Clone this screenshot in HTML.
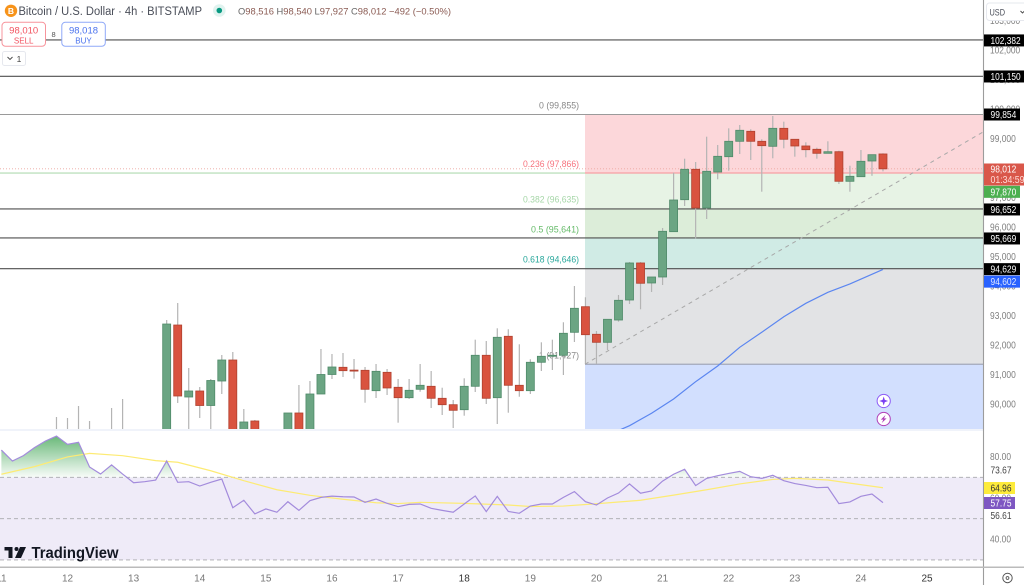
<!DOCTYPE html>
<html lang="en">
<head>
<meta charset="utf-8">
<title>Bitcoin / U.S. Dollar 4h chart</title>
<style>
html,body{margin:0;padding:0;background:#fff;width:1024px;height:585px;overflow:hidden}
svg{display:block;font-family:"Liberation Sans",sans-serif}
</style>
</head>
<body>
<svg id="chart" xmlns="http://www.w3.org/2000/svg" width="1024" height="585" viewBox="0 0 1024 585">
  <defs>
    <clipPath id="price-clip"><rect x="0" y="0" width="983" height="429"></rect></clipPath>
    <clipPath id="overbought-clip"><rect x="0" y="430" width="983" height="47.6"></rect></clipPath>
    <linearGradient id="overbought-gradient" gradientUnits="userSpaceOnUse" x1="0" y1="436" x2="0" y2="477.5">
      <stop offset="0" stop-color="#62b572" stop-opacity="0.95"></stop>
      <stop offset="1" stop-color="#62b572" stop-opacity="0.04"></stop>
    </linearGradient>
  </defs>
  <rect x="0" y="0" width="1024" height="585" fill="#ffffff"></rect>
  <g id="fib-layer"></g>
  <g id="line-layer"></g>
  <g id="candle-layer" clip-path="url(#price-clip)"></g>
  <g id="overlay-layer" clip-path="url(#price-clip)"></g>
  <rect x="0" y="429" width="983" height="2" fill="#f0f3fa"></rect>
  <g id="rsi-layer"></g>
  <g>
    <rect x="4.5" y="547" width="8" height="3.5" fill="#131722"></rect>
    <rect x="8.5" y="547" width="4" height="11" fill="#131722"></rect>
    <circle cx="16.5" cy="549" r="2" fill="#131722"></circle>
    <polygon points="20,547 26,547 21,558 15,558" fill="#131722"></polygon>
    <text x="31.5" y="558" font-size="16" font-weight="700" fill="#131722" textLength="87" lengthAdjust="spacingAndGlyphs">TradingView</text>
  </g>
  <g>
    <circle cx="883.7" cy="401" r="6.6" fill="#ffffff" stroke="#8d5cf6" stroke-width="1"></circle>
    <polygon points="883.7,396.5 884.8,399.9 888.2,401 884.8,402.1 883.7,405.5 882.6,402.1 879.2,401 882.6,399.9" fill="#7a3ff2"></polygon>
    <circle cx="883.7" cy="419" r="6.6" fill="#ffffff" stroke="#b040b8" stroke-width="1"></circle>
    <polygon points="885.5,415 880.8,419.6 883.3,419.6 881.8,423 886.6,418.4 884,418.4" fill="#b040b8"></polygon>
  </g>
  <g id="axis-layer"></g>
  <g>
    <circle cx="11" cy="10.8" r="6.2" fill="#f7931a"></circle>
    <text x="11" y="13.8" font-size="8.5" font-weight="700" fill="#fff" text-anchor="middle">B</text>
    <text x="18.5" y="15" font-size="11.5" fill="#4a4e59" textLength="183.5" lengthAdjust="spacingAndGlyphs">Bitcoin / U.S. Dollar · 4h · BITSTAMP</text>
    <circle cx="219.3" cy="10.5" r="6.3" fill="#e0f3ef"></circle>
    <circle cx="219.3" cy="10.5" r="2.8" fill="#089981"></circle>
    <text x="238" y="14.5" font-size="9.5" fill="#8a5a52" textLength="213" lengthAdjust="spacingAndGlyphs"><tspan fill="#666">O</tspan>98,516  <tspan fill="#666">H</tspan>98,540  <tspan fill="#666">L</tspan>97,927  <tspan fill="#666">C</tspan>98,012  −492 (−0.50%)</text>
    <rect x="2" y="22.3" width="43.5" height="24" rx="3.5" fill="#fff" stroke="#f7949c" stroke-width="1"></rect>
    <text x="23.7" y="33.5" font-size="9.5" fill="#f2525f" text-anchor="middle">98,010</text>
    <text x="23.7" y="43.5" font-size="8" fill="#f2525f" text-anchor="middle">SELL</text>
    <text x="53.6" y="37" font-size="7.5" fill="#555" text-anchor="middle">8</text>
    <rect x="61.8" y="22.3" width="43.5" height="24" rx="3.5" fill="#fff" stroke="#8fa9f8" stroke-width="1"></rect>
    <text x="83.5" y="33.5" font-size="9.5" fill="#4a72ee" text-anchor="middle">98,018</text>
    <text x="83.5" y="43.5" font-size="8" fill="#4a72ee" text-anchor="middle">BUY</text>
    <rect x="2.5" y="51.5" width="23" height="14" rx="2" fill="#fff" stroke="#e6e8ee" stroke-width="1"></rect>
    <path d="M7.5 57 L10 59.5 L12.5 57" fill="none" stroke="#444" stroke-width="0.9"></path>
    <text x="19" y="62" font-size="8.5" fill="#444" text-anchor="middle">1</text>
  </g>
</svg>
<script>
// Candle data: open, high, low, close in USD (4h bars, first bar is 4h before day 12)
const candleOpen = [88900,88800,88900,88700,88800,88700,88900,89000,88800,88700,
88820,92718,90278,90482,89990,90820,91532,88820,89465,88820,
88700,88820,89736,88820,90380,91041,91285,91190,91183,90492,
91115,90607,90254,90539,90641,90234,90017,89847,90641,91692,
90254,92336,90675,90492,91455,91658,91692,92471,93339,92404,
92132,92888,93566,94821,94143,94346,95882,96966,97997,96685,
97905,98424,98946,99285,98946,98776,99386,99014,98787,98675,
98539,98593,97590,97746,98278,98516];
const candleHigh = [89600,89566,89973,89465,89000,89905,90210,89100,89100,89100,
92888,93464,91261,90617,90888,91702,91803,89871,89499,89000,
89100,89736,90685,90820,91905,91736,91770,91566,91295,91397,
91227,90888,90888,91397,91159,90593,90176,90912,92221,92176,
92607,92573,92065,91557,92132,92221,92811,94041,93658,92515,
92922,93736,94855,94855,94346,96007,97881,98356,98244,99102,
98821,99386,99498,99353,99014,99804,99611,99014,98912,98729,
98946,98627,98118,98651,98492,98540];
const candleLow = [88600,88500,88600,88400,88500,88500,88700,88700,88600,88600,
88481,90075,88990,89566,88820,90380,88481,88650,88481,88500,
88500,88481,88481,88481,90380,90888,90956,90900,90084,90244,
90346,89407,90210,90457,89905,89668,89227,89644,90447,90041,
89363,89746,90288,90380,91159,91193,91024,92142,91397,91397,
91871,92830,93431,93251,93838,94075,95872,96753,95658,96312,
97658,97949,98515,98312,97237,98370,98708,98424,98403,98356,
98539,97499,97237,97746,97777,97927];
const candleClose = [88800,88900,88700,88800,88700,88900,89000,88800,88700,88820,
92752,90312,90482,89990,90837,91532,88820,89431,88820,88700,
88820,89736,88820,90380,91041,91295,91170,91170,90539,91149,
90584,90254,90505,90675,90234,90017,89827,90641,91692,90234,
92302,90675,90492,91455,91658,91692,92438,93285,92390,92132,
92912,93556,94821,94133,94346,95895,96956,97997,96685,97929,
98437,98946,99319,98946,98797,99386,99014,98787,98661,98539,
98593,97590,97760,98268,98492,98012];
// Moving average on price pane
const maBars = [50,51,53,55,57,59,61,63,65,67,69,71,74];
const maValues = [89143,89305,89726,90211,90797,91329,91963,92471,93000,93454,93827,94109,94602];
// RSI (starts 6 bars before the first candle tick at day 12)
const rsiValues = [83.2,77.9,80.5,84.4,87.6,90.0,86.0,87.0,75.0,71.6,76.0,71.6,67.4,67.9,68.7,77.9,67.6,67.9,65.8,67.6,69.2,55.3,58.9,52.3,54.7,53.1,58.2,54.0,58.7,60.3,60.9,60.6,60.5,57.9,59.5,57.4,55.8,
56.9,57.1,55.0,54.0,53.1,57.1,61.0,53.4,60.8,53.5,52.6,56.1,57.1,57.1,60.3,63.1,58.2,56.6,60.0,62.4,66.8,62.3,63.4,68.2,71.5,73.9,66.0,69.5,70.8,71.9,72.9,70.3,69.5,71.0,68.4,67.0,
66.1,65.0,65.2,57.3,58.1,60.8,61.9,57.75];
const rsiMaBars = [-6,-3,0,2,5,8,10,13,16,19,22,25,28,30,32,36,40,42,45,48,52,55,58,61,64,66,69,71,74];
const rsiMaValues = [71.5,75.2,79.9,81.6,80.5,78.1,77.3,73.2,68.4,64.0,61.3,59.4,57.7,57.3,57.9,57.4,56.6,55.9,56.1,57.2,58.9,61.4,64.0,66.8,69.0,69.5,68.7,67.2,64.96];
const rsiBands = [70,50,30];
// Axes
const dayTicks = [11,12,13,14,15,16,17,18,19,20,21,22,23,24,25];
const boldDays = [18,25];
const priceTicks = [103000,102000,101000,100000,99000,98000,97000,96000,95000,94000,93000,92000,91000,90000];
const rsiTicks = [80,60,40];
// Levels
const blackLevels = [102382,101150,99854,96652,95669,94629];
const fibPrices = [99854,97870,96652,95669,94629,91388];
const fibNames = ["0 (99,855)","0.236 (97,866)","0.382 (96,635)","0.5 (95,641)","0.618 (94,646)","1 (91,427)"];
const lastPrice = 98012;
const trendStartPrice = 91388;
const trendEndPrice = 99261;

const NS = "http://www.w3.org/2000/svg";
const xBar = k => 67.5 + 11.02 * k;
const xDay = d => 67.5 + 66.12 * (d - 12);
const yPrice = p => 139.7 + (99000 - p) * 0.0295;
const yRsi = r => 456.7 + (80 - r) * 2.065;
const fmt = v => Math.round(v).toString().replace(/\B(?=(\d{3})+$)/g, ",");

function add(parent, tag, attrs, text) {
  const node = document.createElementNS(NS, tag);
  for (const key in attrs) node.setAttribute(key, attrs[key]);
  if (text !== undefined) node.textContent = text;
  parent.appendChild(node);
  return node;
}

const fibLayer = document.getElementById("fib-layer");
const lineLayer = document.getElementById("line-layer");
const candleLayer = document.getElementById("candle-layer");
const overlayLayer = document.getElementById("overlay-layer");
const rsiLayer = document.getElementById("rsi-layer");
const axisLayer = document.getElementById("axis-layer");

// Fibonacci zones
const fibFills = ["#fcd7da", "#e7f3e5", "#dcedd9", "#d0ebe5", "#e2e3e5", "#d2dffe"];
const fibTextColors = ["#888888", "#f7727c", "#a5d6a7", "#66bb6a", "#26a69a", "#8a8a8a"];
fibFills.forEach((fill, i) => {
  const top = yPrice(fibPrices[i]);
  const bottom = i + 1 < fibPrices.length ? yPrice(fibPrices[i + 1]) : 429;
  const zone = add(fibLayer, "rect", {x: 585, y: top, width: 398, height: bottom - top, fill: fill});
  
  
});
fibNames.forEach((name, i) => {
  const offsets = [-9, -9, -9.5, -8.5, -9.5, -9];
  const label = add(fibLayer, "text", {x: 579, y: yPrice(fibPrices[i]) + offsets[i] + 3.2, "font-size": 9.5, fill: fibTextColors[i], "text-anchor": "end", textLength: name.length * 4.0, lengthAdjust: "spacingAndGlyphs"}, name);
  
  
});
const fibOneLine = add(fibLayer, "line", {x1: 585, x2: 983, y1: yPrice(fibPrices[5]), y2: yPrice(fibPrices[5]), stroke: "#a3a8ba", "stroke-width": 1.2});



// Horizontal levels
blackLevels.forEach((value, i) => {
  const colour = i === 2 ? "#9a9a9a" : "#4f4f4f";
  const level = add(lineLayer, "line", {x1: 0, x2: 983, y1: yPrice(value), y2: yPrice(value), stroke: colour, "stroke-width": 1.1});
  
  
});
const fibGreenLine = add(lineLayer, "line", {x1: 0, x2: 585, y1: yPrice(fibPrices[1]), y2: yPrice(fibPrices[1]), stroke: "#c8e6c9", "stroke-width": 1.6});


const fibRedLine = add(lineLayer, "line", {x1: 585, x2: 983, y1: yPrice(fibPrices[1]), y2: yPrice(fibPrices[1]), stroke: "#f79ea5", "stroke-width": 1.3});


const lastLine = add(lineLayer, "line", {x1: 0, x2: 983, y1: yPrice(lastPrice), y2: yPrice(lastPrice), stroke: "#eda7a0", "stroke-width": 0.9, "stroke-dasharray": "1 2"});



// Candles
candleClose.forEach((close, i) => {
  const k = i - 1;
  const x = xBar(k);
  const rising = close >= candleOpen[i];
  const top = yPrice(Math.max(close, candleOpen[i]));
  const bottom = yPrice(Math.min(close, candleOpen[i]));
  const wick = add(candleLayer, "line", {x1: x, x2: x, y1: yPrice(candleHigh[i]), y2: yPrice(candleLow[i]), stroke: "#b4b4b4", "stroke-width": 1.2});
  
  
  const body = add(candleLayer, "rect", {x: x - 4, y: top, width: 8, height: Math.max(bottom - top, 1), fill: rising ? "#6ba583" : "#d9533f", stroke: rising ? "#4f8a69" : "#b0412f", "stroke-width": 0.8});
  
  
});

// Fib trend line and moving average
const trendLine = add(overlayLayer, "line", {x1: 585, x2: 983, y1: yPrice(trendStartPrice), y2: yPrice(trendEndPrice), stroke: "#a8a8a8", "stroke-width": 1, "stroke-dasharray": "4 4"});


const maPoints = maBars.map((k, i) => xBar(k) + "," + yPrice(maValues[i])).join(" ");
const maLine = add(overlayLayer, "polyline", {points: maPoints, fill: "none", stroke: "#5b86f0", "stroke-width": 1.2});



// RSI pane
const rsiBand = add(rsiLayer, "rect", {x: 0, y: yRsi(70), width: 983, height: yRsi(30) - yRsi(70), fill: "#efebf8"});


const rsiCoords = rsiValues.map((r, i) => [xBar(i - 6), yRsi(r)]);
const overboughtPoints = [[rsiCoords[0][0], yRsi(70)]].concat(rsiCoords, [[rsiCoords[rsiCoords.length - 1][0], yRsi(70)]]).map(p => p.join(",")).join(" ");
const overbought = add(rsiLayer, "polygon", {points: overboughtPoints, fill: "url(#overbought-gradient)", "clip-path": "url(#overbought-clip)"});


rsiBands.forEach(level => {
  const band = add(rsiLayer, "line", {x1: 0, x2: 983, y1: yRsi(level), y2: yRsi(level), stroke: "#a9a9ad", "stroke-width": 0.9, "stroke-dasharray": "4 3"});
  
  
});
const rsiMaPoints = rsiMaBars.map((k, i) => xBar(k) + "," + yRsi(rsiMaValues[i])).join(" ");
const rsiMaLine = add(rsiLayer, "polyline", {points: rsiMaPoints, fill: "none", stroke: "#fdeb74", "stroke-width": 1.2});


const rsiLine = add(rsiLayer, "polyline", {points: rsiCoords.map(p => p.join(",")).join(" "), fill: "none", stroke: "#a38bdc", "stroke-width": 1.2});



// Axes
const rightPanel = add(axisLayer, "rect", {x: 983, y: 0, width: 41, height: 585, fill: "#ffffff"});


const bottomPanel = add(axisLayer, "rect", {x: 0, y: 567, width: 1024, height: 18, fill: "#ffffff"});


const axisVertical = add(axisLayer, "line", {x1: 983.5, x2: 983.5, y1: 0, y2: 585, stroke: "#9c9c9c", "stroke-width": 1.1});


const axisHorizontal = add(axisLayer, "line", {x1: 0, x2: 1024, y1: 567.3, y2: 567.3, stroke: "#bbbbbb", "stroke-width": 1.5});



dayTicks.forEach(day => {
  const tick = add(axisLayer, "text", {x: xDay(day), y: 581.5, "font-size": 10, fill: boldDays.includes(day) ? "#333333" : "#777777", "text-anchor": "middle"}, String(day));
  
  
});
priceTicks.forEach(value => {
  const label = fmt(value);
  const tick = add(axisLayer, "text", {x: 990, y: yPrice(value) + 2.5, "font-size": 10, fill: "#808080", textLength: label.length * 4.3, lengthAdjust: "spacingAndGlyphs"}, label);
  
  
});
rsiTicks.forEach(value => {
  const tick = add(axisLayer, "text", {x: 990, y: yRsi(value) + 3.3, "font-size": 10, fill: "#808080", textLength: 21, lengthAdjust: "spacingAndGlyphs"}, value.toFixed(2));
  
  
});

function tag(value, offset, fill, colour, width) {
  const centre = yPrice(value) + offset;
  const label = fmt(value);
  const box = add(axisLayer, "rect", {x: 984, y: centre - 6, width: width, height: 12, fill: fill});
  
  
  const text = add(axisLayer, "text", {x: 990.5, y: centre + 3.5, "font-size": 10, fill: colour, textLength: label.length * 4.3, lengthAdjust: "spacingAndGlyphs"}, label);
  
  
}
tag(102382, 0.5, "#000000", "#ffffff", 40);
tag(101150, 0.2, "#000000", "#ffffff", 40);
tag(99854, 0, "#000000", "#ffffff", 36);
tag(96652, 0.5, "#000000", "#ffffff", 36);
tag(95669, 0.5, "#000000", "#ffffff", 36);
tag(94629, 0.5, "#000000", "#ffffff", 36);
tag(94602, 12.2, "#2962ff", "#dfe7ff", 36);
tag(97870, 18.8, "#4caf50", "#ffffff", 36);

const lastBox = add(axisLayer, "rect", {x: 984, y: 163.5, width: 40, height: 22, fill: "#d9574a"});


const lastText = add(axisLayer, "text", {x: 990.5, y: 172.5, "font-size": 10, fill: "#ffffff", textLength: 25.8, lengthAdjust: "spacingAndGlyphs"}, fmt(lastPrice));


const countdown = add(axisLayer, "text", {x: 990.5, y: 183, "font-size": 10, fill: "#ffd9d4", textLength: 34, lengthAdjust: "spacingAndGlyphs"}, "01:34:59");



const rsiHigh = add(axisLayer, "text", {x: 990.5, y: 473.5, "font-size": 10, fill: "#444444", textLength: 21, lengthAdjust: "spacingAndGlyphs"}, "73.67");


const rsiLow = add(axisLayer, "text", {x: 990.5, y: 519, "font-size": 10, fill: "#444444", textLength: 21, lengthAdjust: "spacingAndGlyphs"}, "56.61");


const rsiMaBox = add(axisLayer, "rect", {x: 984, y: 482, width: 31, height: 12, fill: "#fdeb3b"});


const rsiMaText = add(axisLayer, "text", {x: 990.5, y: 491.5, "font-size": 10, fill: "#333333", textLength: 21, lengthAdjust: "spacingAndGlyphs"}, rsiMaValues[rsiMaValues.length - 1].toFixed(2));


const rsiBox = add(axisLayer, "rect", {x: 984, y: 497, width: 31, height: 12, fill: "#7e57c2"});


const rsiText = add(axisLayer, "text", {x: 990.5, y: 506.5, "font-size": 10, fill: "#ffffff", textLength: 21, lengthAdjust: "spacingAndGlyphs"}, rsiValues[rsiValues.length - 1].toFixed(2));



const usdBox = add(axisLayer, "rect", {x: 986.5, y: 3, width: 40, height: 17.5, rx: 3, fill: "#ffffff", stroke: "#e6e8ee", "stroke-width": 1});


const usdText = add(axisLayer, "text", {x: 989.5, y: 15.3, "font-size": 9.5, fill: "#4a4e59", textLength: 15.5, lengthAdjust: "spacingAndGlyphs"}, "USD");


const usdChevron = add(axisLayer, "path", {d: "M1020.5 11 L1022.5 13 L1024.5 11", fill: "none", stroke: "#444", "stroke-width": 0.9});


const gearOuter = add(axisLayer, "circle", {cx: 1007.5, cy: 578, r: 4.7, fill: "none", stroke: "#555", "stroke-width": 1});


const gearInner = add(axisLayer, "circle", {cx: 1007.5, cy: 578, r: 1.4, fill: "none", stroke: "#555", "stroke-width": 0.9});


</script>
</body>
</html>
